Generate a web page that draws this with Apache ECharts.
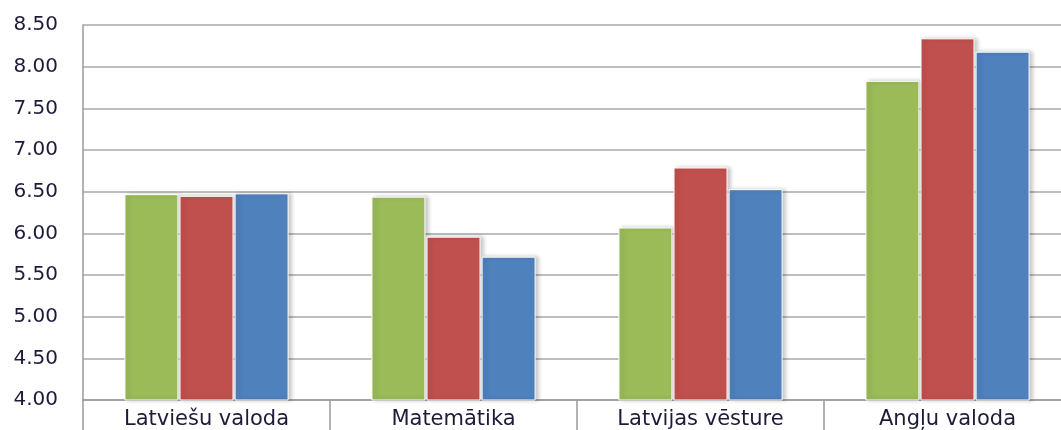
<!DOCTYPE html>
<html>
<head>
<meta charset="utf-8">
<script src="https://cdn.jsdelivr.net/npm/echarts@6/dist/echarts.min.js"></script>
<style>
html,body{margin:0;padding:0;background:#fff;}
#chart{width:1061px;height:430px;}
</style>
</head>
<body>
<div id="chart"></div>
<script>
const categories = ['Latviešu valoda', 'Matemātika', 'Latvijas vēsture', 'Angļu valoda'];
const seriesGreen = [6.47, 6.44, 6.07, 7.83];
const seriesRed = [6.45, 5.96, 6.79, 8.34];
const seriesBlue = [6.48, 5.72, 6.53, 8.18];
const colors = ['#9BBB59', '#C0504D', '#4F81BD'];

const chart = echarts.init(document.getElementById('chart'));
const itemStyleFor = c => ({
  color: c,
  borderColor: '#ffffff',
  borderWidth: 1,
  shadowBlur: 4,
  shadowOffsetX: 3,
  shadowOffsetY: 0,
  shadowColor: 'rgba(0,0,0,0.22)'
});
chart.setOption({
  animation: false,
  backgroundColor: '#fff',
  grid: { left: 83, top: 25, height: 375, width: 988, containLabel: false, outerBoundsMode: 'none' },
  xAxis: {
    type: 'category',
    data: categories,
    axisLine: { show: true, lineStyle: { color: '#9a9a9a', width: 1.5 } },
    axisTick: { show: true, length: 32, lineStyle: { color: '#9a9a9a', width: 1.5 } },
    axisLabel: { margin: 9, color: '#1c1c3a', fontSize: 21, fontFamily: 'DejaVu Sans' }
  },
  yAxis: {
    type: 'value',
    min: 4, max: 8.5, interval: 0.5,
    axisLine: { show: true, lineStyle: { color: '#9a9a9a', width: 1.5 } },
    axisTick: { show: false },
    splitLine: { show: true, lineStyle: { color: '#a8a8a8', width: 1.5 } },
    axisLabel: { margin: 25, color: '#1c1c3a', fontSize: 20, fontFamily: 'DejaVu Sans',
      formatter: v => v.toFixed(2) }
  },
  series: [
    { type: 'bar', data: seriesGreen, barWidth: 54, barGap: '2%', itemStyle: itemStyleFor(colors[0]) },
    { type: 'bar', data: seriesRed, barWidth: 54, barGap: '2%', itemStyle: itemStyleFor(colors[1]) },
    { type: 'bar', data: seriesBlue, barWidth: 54, barGap: '2%', itemStyle: itemStyleFor(colors[2]) }
  ]
});
</script>
</body>
</html>
